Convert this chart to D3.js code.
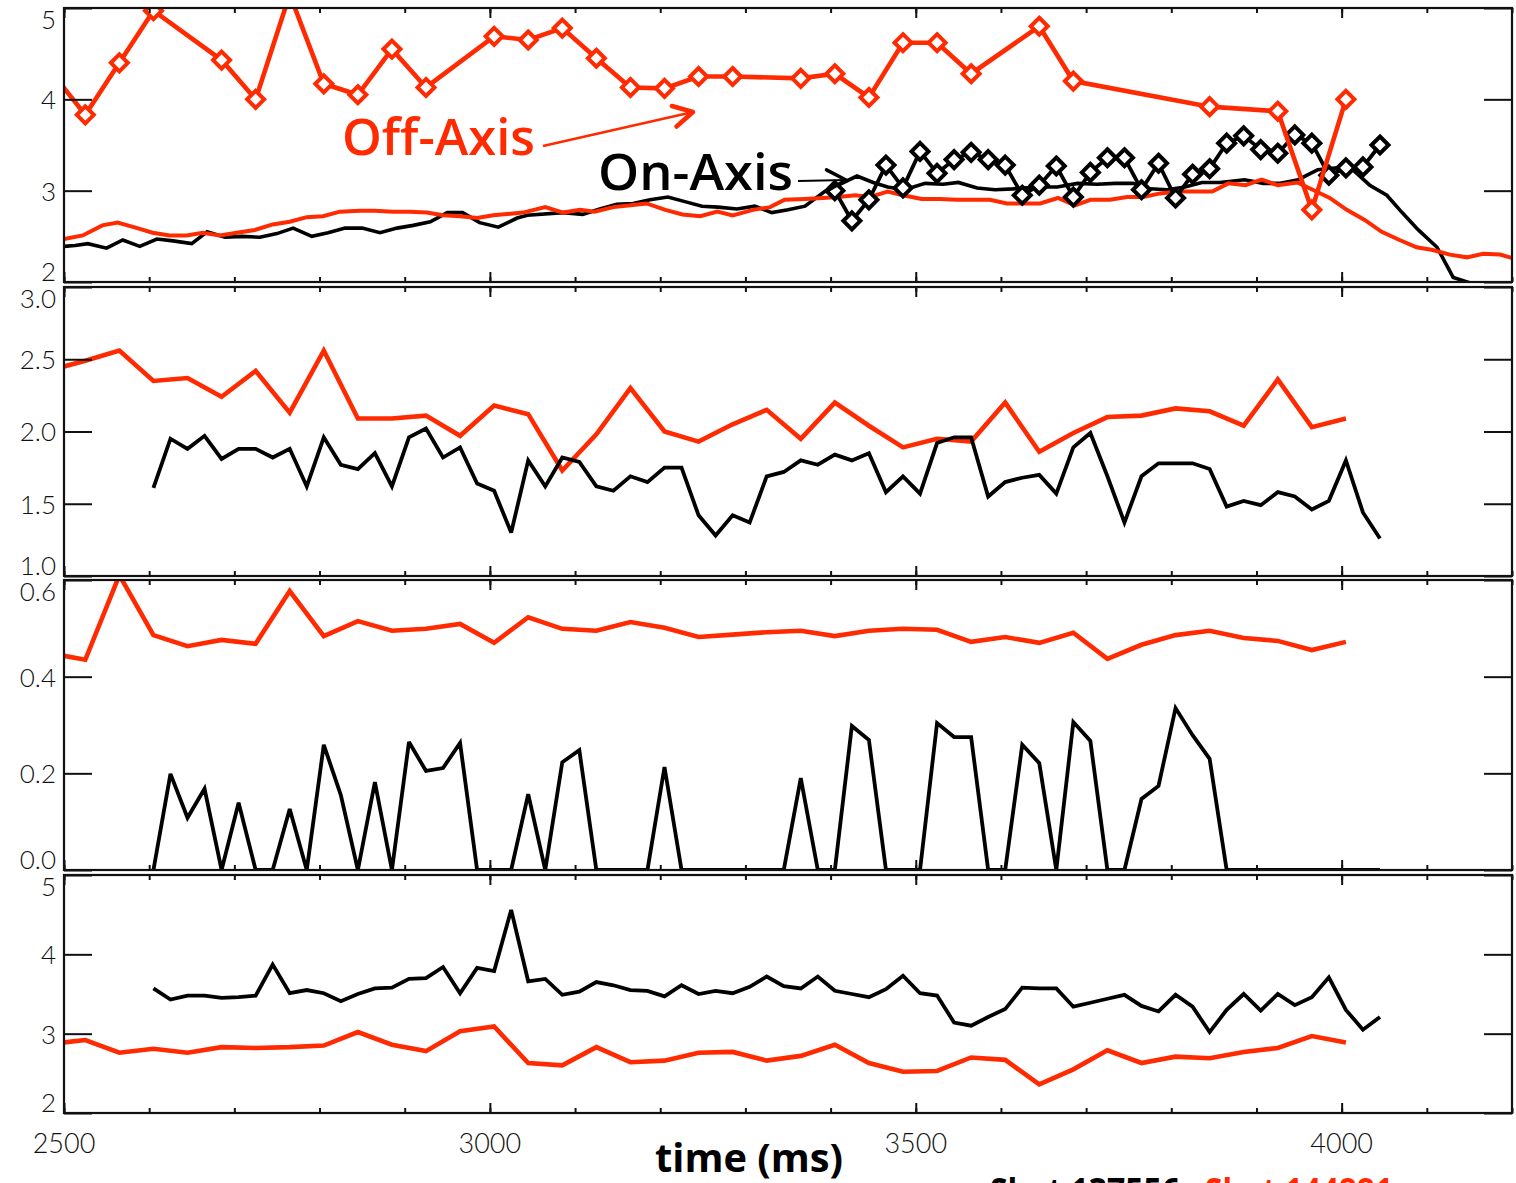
<!DOCTYPE html>
<html>
<head>
<meta charset="utf-8">
<script src="https://cdn.jsdelivr.net/npm/d3@7"></script>
<style>
  body { margin: 0; background: #fff; }
  svg { display: block; }
</style>
</head>
<body>
<svg></svg>
<script>
// ---- data ----
// tick labels
const xTickLabels = [2500, 3000, 3500, 4000];
const yTicks1 = [2, 3, 4, 5];
const yTicks2 = [1.0, 1.5, 2.0, 2.5, 3.0];
const yTicks3 = [0.0, 0.2, 0.4, 0.6];
const yTicks4 = [2, 3, 4, 5];

// on-axis sampling grid (shot 137556), 20 ms
const onTimes = d3.range(2605, 4046, 20);
// off-axis sampling (shot 144881), ~40 ms
const offTimes = [2500, 2525, 2565, 2605, 2645, 2685, 2725, 2765, 2805, 2845, 2885, 2925, 2965,
  3005, 3045, 3085, 3125, 3165, 3205, 3245, 3285, 3325, 3365, 3405, 3445, 3485, 3525, 3565,
  3605, 3645, 3685, 3725, 3765, 3805, 3845, 3885, 3925, 3965, 4005];

// panel 1 : diamond series
const offDiamondTimes = [2485, 2525, 2565, 2605, 2685, 2725, 2765, 2805, 2845, 2885, 2925, 3005,
  3045, 3085, 3125, 3165, 3205, 3245, 3285, 3365, 3405, 3445, 3485, 3525, 3565, 3645, 3685,
  3845, 3925, 3965, 4005];
const offDiamondVals = [4.3, 3.83, 4.40, 4.97, 4.43, 4.0, 5.15, 4.17, 4.05, 4.55, 4.13, 4.69,
  4.65, 4.78, 4.45, 4.13, 4.12, 4.25, 4.25, 4.23, 4.28, 4.02, 4.62, 4.62, 4.28, 4.8, 4.2,
  3.92, 3.87, 2.79, 4.0];
const onDiamondTimes = d3.range(3405, 4046, 20);
const onDiamondVals = [3.00, 2.67, 2.90, 3.28, 3.03, 3.43, 3.19, 3.34, 3.42, 3.34, 3.28, 2.95,
  3.06, 3.27, 2.93, 3.20, 3.36, 3.36, 3.01, 3.30, 2.92, 3.18, 3.24, 3.52, 3.60, 3.45, 3.41,
  3.61, 3.52, 3.17, 3.25, 3.26, 3.50];

// panel 1 : plain traces
const onTraceTimes = [2500, 2513, 2528, 2550, 2569, 2589, 2609, 2628, 2650, 2668, 2689, 2709,
  2730, 2750, 2769, 2791, 2810, 2830, 2850, 2871, 2891, 2910, 2930, 2950, 2968, 2988, 3010,
  3032, 3044, 3086, 3109, 3129, 3149, 3168, 3188, 3209, 3229, 3249, 3268, 3290, 3311, 3331,
  3350, 3370, 3393, 3431, 3450, 3467, 3487, 3511, 3532, 3550, 3572, 3593, 3614, 3643, 3666,
  3690, 3713, 3734, 3755, 3775, 3795, 3816, 3836, 3857, 3886, 3908, 3928, 3949, 3972, 3995,
  4013, 4033, 4053, 4071, 4090, 4112, 4131, 4151];
const onTraceVals = [2.39, 2.40, 2.42, 2.37, 2.46, 2.39, 2.47, 2.45, 2.42, 2.55, 2.49, 2.50,
  2.49, 2.53, 2.59, 2.50, 2.54, 2.59, 2.59, 2.54, 2.59, 2.62, 2.66, 2.76, 2.76, 2.65, 2.60,
  2.70, 2.73, 2.76, 2.74, 2.80, 2.85, 2.86, 2.90, 2.93, 2.88, 2.83, 2.82, 2.80, 2.83, 2.76,
  2.79, 2.83, 2.99, 3.16, 3.09, 3.04, 3.01, 3.08, 3.07, 3.09, 3.03, 3.01, 3.02, 3.04, 3.04,
  3.08, 3.07, 3.08, 3.08, 3.02, 3.01, 3.04, 3.09, 3.09, 3.12, 3.08, 3.08, 3.12, 3.23, 3.25,
  3.23, 3.06, 2.95, 2.76, 2.57, 2.38, 2.05, 1.99];
const offTraceTimes = [2500, 2522, 2545, 2563, 2586, 2604, 2624, 2644, 2663, 2683, 2703, 2724,
  2745, 2765, 2785, 2804, 2824, 2847, 2865, 2886, 2906, 2926, 2945, 2965, 2985, 3004, 3039,
  3065, 3086, 3106, 3123, 3145, 3165, 3184, 3206, 3226, 3247, 3267, 3285, 3309, 3329, 3346,
  3370, 3391, 3409, 3429, 3446, 3467, 3485, 3507, 3528, 3548, 3567, 3587, 3607, 3626, 3646,
  3667, 3687, 3705, 3728, 3748, 3767, 3787, 3807, 3828, 3848, 3867, 3887, 3906, 3925, 3948,
  3966, 3986, 4006, 4027, 4047, 4068, 4088, 4107, 4127, 4147, 4166, 4186, 4201];
const offTraceVals = [2.47, 2.51, 2.62, 2.65, 2.59, 2.54, 2.51, 2.51, 2.54, 2.51, 2.54, 2.57,
  2.63, 2.66, 2.71, 2.72, 2.77, 2.78, 2.78, 2.77, 2.77, 2.76, 2.73, 2.72, 2.70, 2.73, 2.76,
  2.82, 2.76, 2.79, 2.77, 2.82, 2.84, 2.86, 2.79, 2.74, 2.72, 2.77, 2.73, 2.79, 2.82, 2.90,
  2.91, 2.92, 2.93, 2.95, 2.93, 2.99, 2.95, 2.91, 2.91, 2.90, 2.90, 2.90, 2.86, 2.86, 2.86,
  2.92, 2.84, 2.90, 2.90, 2.93, 2.93, 2.97, 2.99, 2.99, 2.99, 3.08, 3.06, 3.12, 3.06, 3.09,
  3.01, 2.92, 2.79, 2.68, 2.55, 2.46, 2.38, 2.35, 2.30, 2.27, 2.31, 2.30, 2.26];

// panel 2
const onVals2 = [1.61, 1.95, 1.88, 1.97, 1.81, 1.88, 1.88, 1.82, 1.88, 1.62, 1.96, 1.77, 1.74,
  1.85, 1.62, 1.96, 2.02, 1.82, 1.89, 1.64, 1.59, 1.30, 1.80, 1.62, 1.82, 1.79, 1.62, 1.59,
  1.69, 1.65, 1.75, 1.75, 1.42, 1.28, 1.42, 1.37, 1.69, 1.72, 1.80, 1.77, 1.84, 1.80, 1.85,
  1.58, 1.69, 1.57, 1.92, 1.96, 1.96, 1.55, 1.65, 1.68, 1.70, 1.57, 1.89, 1.99, 1.69, 1.37,
  1.69, 1.78, 1.78, 1.78, 1.74, 1.48, 1.52, 1.49, 1.58, 1.55, 1.46, 1.52, 1.80, 1.44, 1.26];
const offVals2 = [2.45, 2.49, 2.56, 2.35, 2.37, 2.24, 2.42, 2.13, 2.56, 2.09, 2.09, 2.11, 1.97,
  2.18, 2.12, 1.73, 1.98, 2.30, 2.00, 1.93, 2.05, 2.15, 1.95, 2.20, 2.04, 1.89, 1.95, 1.93,
  2.20, 1.86, 1.99, 2.10, 2.11, 2.16, 2.14, 2.04, 2.36, 2.03, 2.09];

// panel 3
const onVals3 = [0, 0.199, 0.108, 0.168, 0, 0.139, 0, 0, 0.126, 0, 0.259, 0.155, 0, 0.182, 0,
  0.265, 0.205, 0.211, 0.263, 0, 0, 0, 0.157, 0, 0.223, 0.248, 0, 0, 0, 0, 0.213, 0, 0, 0,
  0, 0, 0, 0, 0.19, 0, 0, 0.298, 0.269, 0, 0, 0, 0.304, 0.275, 0.275, 0, 0, 0.259, 0.221, 0,
  0.306, 0.267, 0, 0, 0.147, 0.174, 0.335, 0.279, 0.230, 0, 0, 0, 0, 0, 0, 0, 0, 0, 0];
const offVals3 = [0.443, 0.435, 0.61, 0.486, 0.463, 0.476, 0.468, 0.577, 0.484, 0.515, 0.495,
  0.499, 0.509, 0.470, 0.523, 0.499, 0.495, 0.513, 0.501, 0.482, 0.487, 0.492, 0.495, 0.484,
  0.495, 0.499, 0.497, 0.472, 0.482, 0.470, 0.491, 0.437, 0.466, 0.486, 0.495, 0.480, 0.474,
  0.455, 0.472];

// panel 4
const onVals4 = [3.57, 3.43, 3.48, 3.48, 3.45, 3.46, 3.48, 3.87, 3.51, 3.55, 3.51, 3.41, 3.50,
  3.57, 3.58, 3.69, 3.70, 3.84, 3.51, 3.83, 3.79, 4.56, 3.66, 3.69, 3.49, 3.53, 3.65, 3.61,
  3.55, 3.54, 3.47, 3.61, 3.50, 3.54, 3.51, 3.59, 3.72, 3.60, 3.57, 3.72, 3.54, 3.50, 3.46,
  3.56, 3.73, 3.51, 3.48, 3.14, 3.10, 3.21, 3.31, 3.58, 3.57, 3.57, 3.34, 3.39, 3.44, 3.49,
  3.35, 3.28, 3.49, 3.34, 3.02, 3.30, 3.50, 3.29, 3.50, 3.36, 3.46, 3.71, 3.30, 3.05, 3.21];
const offVals4 = [2.89, 2.92, 2.76, 2.81, 2.76, 2.83, 2.82, 2.83, 2.85, 3.02, 2.86, 2.78, 3.03,
  3.09, 2.63, 2.60, 2.83, 2.64, 2.66, 2.76, 2.77, 2.66, 2.72, 2.86, 2.63, 2.52, 2.53, 2.70,
  2.67, 2.36, 2.55, 2.79, 2.63, 2.71, 2.69, 2.77, 2.82, 2.97, 2.89];

// ---- drawing ----
const RED = '#ff2a00';
const BLACK = '#000';
const W = 1516, H = 1183;

const svg = d3.select('svg').attr('width', W).attr('height', H);
const defs = svg.append('defs');

const x = d3.scaleLinear().domain([2500, 4200]).range([64, 1512]);
const minorX = d3.range(2500, 4201, 100);

const panels = [
  { top: 8, bottom: 282, domain: [2, 5], ticks: yTicks1, fmt: d3.format('d') },
  { top: 287, bottom: 576, domain: [1, 3], ticks: yTicks2, fmt: d3.format('.1f') },
  { top: 580, bottom: 870, domain: [0, 0.6], ticks: yTicks3, fmt: d3.format('.1f') },
  { top: 875, bottom: 1113, domain: [2, 5], ticks: yTicks4, fmt: d3.format('d') },
];

panels.forEach((p, i) => {
  p.y = d3.scaleLinear().domain(p.domain).range([p.bottom, p.top]);
  p.g = svg.append('g');

  defs.append('clipPath').attr('id', 'clip' + i)
    .append('rect')
    .attr('x', x.range()[0]).attr('y', p.top)
    .attr('width', x.range()[1] - x.range()[0]).attr('height', p.bottom - p.top);

  p.plot = p.g.append('g').attr('clip-path', `url(#clip${i})`);

  // x ticks, top and bottom, pointing inward
  [[d3.axisBottom, p.bottom], [d3.axisTop, p.top]].forEach(([ax, yy]) => {
    p.g.append('g').attr('transform', `translate(0,${yy})`)
      .call(ax(x).tickValues(minorX).tickSize(-5).tickFormat(''))
      .call((s) => s.select('.domain').remove());
    p.g.append('g').attr('transform', `translate(0,${yy})`)
      .call(ax(x).tickValues(xTickLabels).tickSize(-10).tickFormat(''))
      .call((s) => s.select('.domain').remove());
  });

  // y ticks with labels on the left, bare ticks on the right
  const left = p.g.append('g').attr('transform', `translate(${x.range()[0]},0)`)
    .call(d3.axisLeft(p.y).tickValues(p.ticks).tickSize(-28).tickPadding(8).tickFormat(p.fmt));
  left.select('.domain').remove();
  left.selectAll('text')
    .attr('font-family', 'Lato, "DejaVu Sans", sans-serif')
    .attr('font-weight', 300)
    .attr('font-size', 26)
    .attr('fill', '#111')
    .attr('dy', (d) => d === p.domain[1] ? '0.8em' : d === p.domain[0] ? '-0.06em' : '0.36em');

  p.g.append('g').attr('transform', `translate(${x.range()[1]},0)`)
    .call(d3.axisRight(p.y).tickValues(p.ticks).tickSize(-28).tickFormat(''))
    .call((s) => s.select('.domain').remove());

  p.g.selectAll('.tick line').attr('stroke', '#111').attr('stroke-width', 2);

  p.g.append('rect')
    .attr('x', x.range()[0]).attr('y', p.top)
    .attr('width', x.range()[1] - x.range()[0]).attr('height', p.bottom - p.top)
    .attr('fill', 'none').attr('stroke', '#111').attr('stroke-width', 2.2);
});

function drawLine(p, times, vals, color, width) {
  const line = d3.line().x((d) => x(d[0])).y((d) => p.y(d[1]));
  p.plot.append('path')
    .datum(d3.zip(times, vals))
    .attr('d', line)
    .attr('fill', 'none')
    .attr('stroke', color)
    .attr('stroke-width', width)
    .attr('stroke-linejoin', 'miter')
    .attr('stroke-miterlimit', 3);
}

function drawDiamonds(p, times, vals, color) {
  p.plot.selectAll(null)
    .data(d3.zip(times, vals))
    .enter()
    .append('path')
    .attr('transform', (d) => `translate(${x(d[0])},${p.y(d[1])})`)
    .attr('d', 'M0,-8.5L8.5,0L0,8.5L-8.5,0Z')
    .attr('fill', '#fff')
    .attr('stroke', color)
    .attr('stroke-width', 4);
}

// panel 1
const p1 = panels[0];
drawLine(p1, onTraceTimes, onTraceVals, BLACK, 3.6);
drawLine(p1, offTraceTimes, offTraceVals, RED, 4);
drawLine(p1, onDiamondTimes, onDiamondVals, BLACK, 3.8);
drawDiamonds(p1, onDiamondTimes, onDiamondVals, BLACK);
drawLine(p1, offDiamondTimes, offDiamondVals, RED, 4.6);
drawDiamonds(p1, offDiamondTimes, offDiamondVals, RED);

// panels 2-4
drawLine(panels[1], offTimes, offVals2, RED, 4.6);
drawLine(panels[1], onTimes, onVals2, BLACK, 3.8);
drawLine(panels[2], offTimes, offVals3, RED, 4.6);
drawLine(panels[2], onTimes, onVals3, BLACK, 3.8);
drawLine(panels[3], offTimes, offVals4, RED, 4.6);
drawLine(panels[3], onTimes, onVals4, BLACK, 3.8);

// x tick labels under the last panel
svg.append('g').selectAll('text')
  .data(xTickLabels)
  .enter()
  .append('text')
  .attr('x', (d) => x(d))
  .attr('y', 1153)
  .attr('text-anchor', 'middle')
  .attr('font-family', 'Lato, "DejaVu Sans", sans-serif')
  .attr('font-weight', 300)
  .attr('font-size', 27)
  .attr('fill', '#111')
  .text((d) => d);

svg.append('text')
  .attr('x', 655).attr('y', 1172)
  .attr('textLength', 188).attr('lengthAdjust', 'spacingAndGlyphs')
  .attr('font-family', '"Open Sans", sans-serif')
  .attr('font-weight', 700)
  .attr('font-size', 40)
  .text('time (ms)');

// shot labels at the very bottom (cut by the page edge, as in the original)
svg.append('text')
  .attr('x', 990).attr('y', 1204)
  .attr('textLength', 190).attr('lengthAdjust', 'spacingAndGlyphs')
  .attr('font-family', '"Open Sans", sans-serif')
  .attr('font-weight', 700).attr('font-size', 36)
  .attr('fill', BLACK)
  .text('Shot 137556');
svg.append('text')
  .attr('x', 1205).attr('y', 1204)
  .attr('textLength', 188).attr('lengthAdjust', 'spacingAndGlyphs')
  .attr('font-family', '"Open Sans", sans-serif')
  .attr('font-weight', 700).attr('font-size', 36)
  .attr('fill', RED)
  .text('Shot 144881');

// annotations with arrows
function arrow(x1, y1, x2, y2, color, w, headW) {
  const a = Math.atan2(y2 - y1, x2 - x1);
  const len = 22;
  svg.append('line')
    .attr('x1', x1).attr('y1', y1).attr('x2', x2).attr('y2', y2)
    .attr('stroke', color).attr('stroke-width', w);
  const pts = [
    [x2 - len * Math.cos(a - 0.5), y2 - len * Math.sin(a - 0.5)],
    [x2, y2],
    [x2 - len * Math.cos(a + 0.5), y2 - len * Math.sin(a + 0.5)],
  ];
  svg.append('polyline')
    .attr('points', pts.map((q) => q.join(',')).join(' '))
    .attr('fill', 'none').attr('stroke', color)
    .attr('stroke-width', headW).attr('stroke-linecap', 'round').attr('stroke-linejoin', 'round');
}

svg.append('text')
  .attr('x', 342).attr('y', 155)
  .attr('textLength', 193).attr('lengthAdjust', 'spacingAndGlyphs')
  .attr('font-family', '"Open Sans", sans-serif')
  .attr('font-weight', 600).attr('font-size', 50)
  .attr('fill', RED)
  .text('Off-Axis');
arrow(543, 146, 693, 112, RED, 2.5, 4.5);

svg.append('text')
  .attr('x', 598).attr('y', 190)
  .attr('textLength', 195).attr('lengthAdjust', 'spacingAndGlyphs')
  .attr('font-family', '"Open Sans", sans-serif')
  .attr('font-weight', 600).attr('font-size', 50)
  .attr('fill', BLACK)
  .text('On-Axis');
arrow(798, 181, 846, 180, BLACK, 2, 3.5);
</script>
</body>
</html>
